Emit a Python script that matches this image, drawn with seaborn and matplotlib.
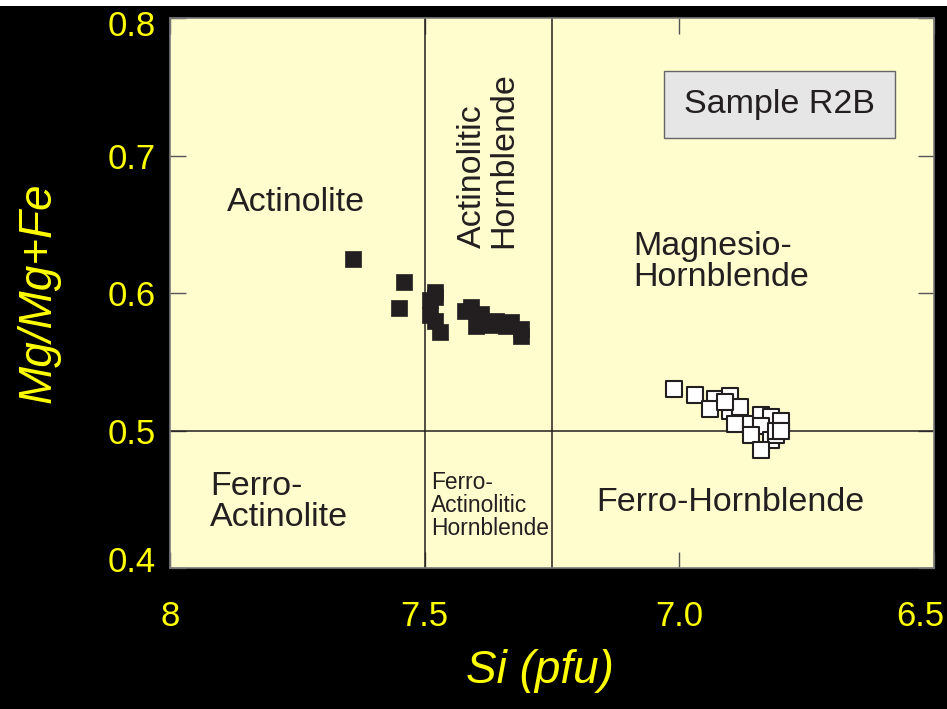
import matplotlib
matplotlib.use("Agg")
import matplotlib.pyplot as plt
from matplotlib.patches import Rectangle
from matplotlib.transforms import ScaledTranslation
import seaborn as sns
import pandas as pd

# Amphibole analyses, sample R2B: Si (pfu) and Mg/(Mg+Fe)
actinolite_si = [7.64, 7.54, 7.55, 7.48, 7.48, 7.49, 7.49, 7.48, 7.47, 7.42,
                 7.41, 7.39, 7.40, 7.36, 7.37, 7.34, 7.33, 7.31, 7.31]
actinolite_mg = [0.625, 0.608, 0.589, 0.601, 0.597, 0.595, 0.584, 0.580, 0.572, 0.587,
                 0.590, 0.585, 0.576, 0.580, 0.577, 0.576, 0.579, 0.574, 0.569]

hornblende_si = [7.01, 6.97, 6.93, 6.90, 6.94, 6.90, 6.88, 6.89, 6.86, 6.84,
                 6.82, 6.80, 6.84, 6.86, 6.82, 6.81, 6.84, 6.81, 6.80, 6.91]
hornblende_mg = [0.530, 0.526, 0.523, 0.525, 0.516, 0.514, 0.517, 0.505, 0.505, 0.511,
                 0.510, 0.507, 0.503, 0.497, 0.493, 0.497, 0.486, 0.500, 0.500, 0.521]

# Classification boundaries
si_boundaries = [7.5, 7.25]
mg_boundary = 0.5

x_ticks = [8.0, 7.5, 7.0, 6.5]
x_tick_labels = ["8", "7.5", "7.0", "6.5"]
y_ticks = [0.4, 0.5, 0.6, 0.7, 0.8]
y_tick_labels = ["0.4", "0.5", "0.6", "0.7", "0.8"]

sns.set_style("ticks")
plt.rcParams["font.family"] = ["Liberation Sans", "DejaVu Sans"]

ink = "#231f20"
yellow = "#ffff00"

fig = plt.figure(figsize=(9.47, 7.09), dpi=100, facecolor="black")
ax = fig.add_axes([170 / 947, 1 - 568 / 709, 764 / 947, 550 / 709])
ax.set_facecolor("#fffccd")

# thin white strip along the top edge of the figure
fig.patches.append(Rectangle((0, 1 - 6 / 709), 1, 6 / 709, transform=fig.transFigure,
                             facecolor="white", edgecolor="none", zorder=0))

for xv in si_boundaries:
    ax.axvline(xv, color=ink, lw=1.1, zorder=1)
ax.axhline(mg_boundary, color=ink, lw=1.1, zorder=1)

df_act = pd.DataFrame({"Si": actinolite_si, "Mg": actinolite_mg})
df_hbl = pd.DataFrame({"Si": hornblende_si, "Mg": hornblende_mg})

sns.scatterplot(data=df_act, x="Si", y="Mg", ax=ax, marker="s", s=144,
                color=ink, edgecolor=ink, linewidth=0.5, zorder=3)
sns.scatterplot(data=df_hbl, x="Si", y="Mg", ax=ax, marker="s", s=118,
                facecolor="white", edgecolor=ink, linewidth=1.5, zorder=3)

ax.set_xlim(8.0, 6.5)
ax.set_ylim(0.4, 0.8)
ax.set_xticks(x_ticks)
ax.set_xticklabels(x_tick_labels)
ax.set_yticks(y_ticks)
ax.set_yticklabels(y_tick_labels)

ax.tick_params(axis="both", which="both", direction="in", length=11.5, width=1.0,
               color="#555555", top=True, right=True, labelsize=25, labelcolor=yellow)
ax.tick_params(axis="x", pad=23)
ax.tick_params(axis="y", pad=10.5)

# keep the end tick labels inside the figure
def nudge(label, dx_px, dy_px):
    label.set_transform(label.get_transform() +
                        ScaledTranslation(dx_px / 100, dy_px / 100, fig.dpi_scale_trans))

nudge(ax.get_xticklabels()[-1], -14, 0)
nudge(ax.get_yticklabels()[-1], 0, -5)
nudge(ax.get_yticklabels()[0], 0, 9)

for sp in ax.spines.values():
    sp.set_color("#7a7a7a")
    sp.set_linewidth(1.2)

ax.set_xlabel("Si (pfu)", fontsize=33, color=yellow, style="italic")
ax.set_ylabel("Mg/Mg+Fe", fontsize=33, color=yellow, style="italic")
ax.xaxis.set_label_coords(0.484, -0.147)
ax.yaxis.set_label_coords(-0.143, 0.5)

# Field names
fs = 24.5
ax.text(7.7525, 0.6599, "Actinolite", fontsize=fs, color=ink, ha="center", va="baseline")
ax.text(7.091, 0.6225, "Magnesio-\nHornblende", fontsize=fs, color=ink, ha="left",
        va="center", linespacing=1.0)
ax.text(7.921, 0.448, "Ferro-\nActinolite", fontsize=fs, color=ink, ha="left",
        va="center", linespacing=1.0)
ax.text(6.899, 0.4473, "Ferro-Hornblende", fontsize=fs, color=ink, ha="center", va="center")
ax.text(7.4876, 0.4458, "Ferro-\nActinolitic\nHornblende", fontsize=16.4, color=ink,
        ha="left", va="center", linespacing=1.0)
ax.text(7.375, 0.6967, "Actinolitic\nHornblende", fontsize=fs, color=ink, rotation=90,
        ha="center", va="center", multialignment="left", linespacing=1.0)

# Sample tag
ax.add_patch(Rectangle((0.6466, 0.7818), 0.3024, 0.1218, transform=ax.transAxes,
                       facecolor="#e6e6e6", edgecolor="#666666", lw=1.0, zorder=4))
ax.text(0.7978, 0.8427, "Sample R2B", transform=ax.transAxes, fontsize=fs, color=ink,
        ha="center", va="center", zorder=5)

fig.savefig("out.png", dpi=100, facecolor=fig.get_facecolor())
